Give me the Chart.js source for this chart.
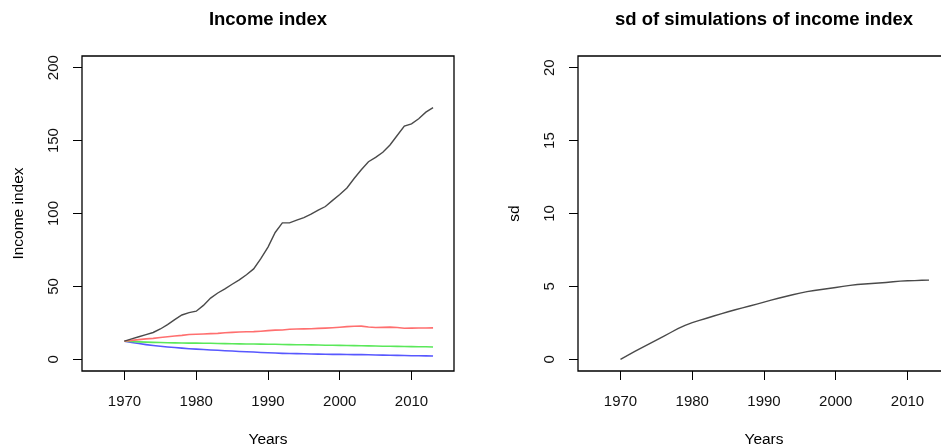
<!DOCTYPE html>
<html>
<head>
<meta charset="utf-8">
<script src="https://cdn.jsdelivr.net/npm/chart.js@4.4.1/dist/chart.umd.min.js"></script>
<style>
  html, body { margin: 0; padding: 0; background: #fff; overflow: hidden; }
  #leftChart { position: absolute; left: 0; top: 0; }
  #rightChart { position: absolute; left: 470px; top: 0; }
</style>
</head>
<body>
<canvas id="leftChart" width="470" height="448"></canvas>
<canvas id="rightChart" width="530" height="448"></canvas>
<script>
// --- data ---
const years = [1970, 1971, 1972, 1973, 1974, 1975, 1976, 1977, 1978, 1979,
               1980, 1981, 1982, 1983, 1984, 1985, 1986, 1987, 1988, 1989,
               1990, 1991, 1992, 1993, 1994, 1995, 1996, 1997, 1998, 1999,
               2000, 2001, 2002, 2003, 2004, 2005, 2006, 2007, 2008, 2009,
               2010, 2011, 2012, 2013];

// observed income index (black)
const incomeObserved = [12.5, 14, 15.5, 16.9, 18.4, 20.8, 23.8, 27.2, 30.4, 32,
                        33, 37, 42, 45.5, 48.3, 51.5, 54.5, 58, 62, 69,
                        77, 87, 93.6, 93.6, 95.4, 97.2, 99.5, 102.3, 104.8, 109,
                        113, 117.5, 124, 130, 135.5, 138.5, 142, 147, 153.5, 160,
                        161.5, 165, 169.5, 172.6];
// simulated scenarios (red / green / blue)
const incomeHigh = [12.5, 13, 13.5, 14, 14.4, 15, 15.5, 16, 16.4, 17,
                    17.2, 17.4, 17.6, 17.8, 18.2, 18.5, 18.7, 18.9, 19, 19.3,
                    19.7, 20, 20.1, 20.6, 20.8, 20.9, 21, 21.2, 21.4, 21.7,
                    22, 22.4, 22.7, 22.8, 22.2, 21.8, 21.9, 22.1, 21.8, 21.3,
                    21.4, 21.5, 21.5, 21.6];
const incomeMid = [12.5, 12.2, 12, 11.8, 11.6, 11.5, 11.4, 11.3, 11.2, 11.1,
                   11.1, 11, 11, 10.9, 10.8, 10.7, 10.6, 10.5, 10.5, 10.4,
                   10.3, 10.3, 10.2, 10.1, 10, 10, 9.9, 9.8, 9.7, 9.7,
                   9.6, 9.5, 9.4, 9.3, 9.2, 9.1, 9, 9, 8.9, 8.8,
                   8.7, 8.6, 8.6, 8.5];
const incomeLow = [12.5, 11.6, 10.8, 10.1, 9.5, 9, 8.5, 8.1, 7.7, 7.3,
                   7, 6.7, 6.4, 6.2, 5.9, 5.7, 5.4, 5.2, 5, 4.7,
                   4.5, 4.3, 4.1, 4, 3.9, 3.8, 3.7, 3.6, 3.5, 3.4,
                   3.4, 3.3, 3.2, 3.2, 3.1, 3, 2.9, 2.8, 2.7, 2.6,
                   2.5, 2.5, 2.4, 2.3];
// sd of simulations
const sdValues = [0, 0.27, 0.54, 0.8, 1.06, 1.32, 1.58, 1.84, 2.1, 2.33,
                  2.52, 2.67, 2.82, 2.97, 3.12, 3.26, 3.4, 3.53, 3.66, 3.79,
                  3.92, 4.06, 4.19, 4.31, 4.43, 4.54, 4.64, 4.72, 4.79, 4.86,
                  4.93, 5, 5.07, 5.13, 5.17, 5.2, 5.23, 5.27, 5.32, 5.36,
                  5.39, 5.4, 5.42, 5.43];

const yearTicks = [1970, 1980, 1990, 2000, 2010];
const incomeTicks = [0, 50, 100, 150, 200];
const sdTicks = [0, 5, 10, 15, 20];

const FONT = '"Liberation Sans", Arial, Helvetica, sans-serif';

function toPoints(vals) {
    return years.map((yr, i) => ({ x: yr, y: vals[i] }));
}

// box around the plot region + titles, drawn the way R base graphics does
const frameAndText = {
    id: 'frameAndText',
    afterDraw(chart, args, opts) {
        const { ctx, chartArea: a } = chart;
        ctx.save();
        ctx.strokeStyle = '#000';
        ctx.lineWidth = 1.3;
        ctx.beginPath();
        ctx.moveTo(a.right, a.top);
        ctx.lineTo(a.left, a.top);
        ctx.lineTo(a.left, a.bottom);
        ctx.lineTo(a.right, a.bottom);
        if (opts.closeRight) ctx.closePath();
        ctx.stroke();

        const cx = (a.left + a.right) / 2;
        ctx.fillStyle = '#000';
        ctx.textAlign = 'center';
        ctx.textBaseline = 'alphabetic';
        ctx.font = 'bold 18.5px ' + FONT;
        ctx.fillText(opts.title, cx, 25);
        ctx.font = '15.5px ' + FONT;
        ctx.fillText(opts.xTitle, cx, 444);
        ctx.translate(opts.yTitleX, (a.top + a.bottom) / 2);
        ctx.rotate(-Math.PI / 2);
        ctx.fillText(opts.yTitle, 0, 0);
        ctx.restore();
    }
};

function makeScales(yMin, yMax, yTickVals, yAxisWidth, yPad) {
    return {
        x: {
            type: 'linear',
            min: 1964.08,
            max: 2015.92,
            afterBuildTicks: s => { s.ticks = yearTicks.map(v => ({ value: v })); },
            afterFit: s => { s.height = 77; },
            grid: { drawOnChartArea: false, drawTicks: true, tickLength: 9, color: '#000', lineWidth: 1 },
            border: { display: false },
            ticks: { color: '#111', font: { family: FONT, size: 15 }, padding: 13, maxRotation: 0,
                     callback: v => String(v) }
        },
        y: {
            type: 'linear',
            min: yMin,
            max: yMax,
            afterBuildTicks: s => { s.ticks = yTickVals.map(v => ({ value: v })); },
            afterFit: s => { s.width = yAxisWidth; },
            grid: { drawOnChartArea: false, drawTicks: true, tickLength: 9, color: '#000', lineWidth: 1 },
            border: { display: false },
            ticks: { color: '#111', font: { family: FONT, size: 15 }, padding: yPad,
                     minRotation: 90, maxRotation: 90, crossAlign: 'center',
                     callback: v => String(v) }
        }
    };
}

const common = {
    responsive: false,
    animation: false,
    events: [],
    elements: { point: { radius: 0 }, line: { tension: 0 } }
};

new Chart(document.getElementById('leftChart'), {
    type: 'line',
    data: {
        datasets: [
            { data: toPoints(incomeObserved), borderColor: '#4a4a4a', borderWidth: 1.4 },
            { data: toPoints(incomeHigh), borderColor: '#ff6f6f', borderWidth: 1.6 },
            { data: toPoints(incomeMid), borderColor: '#5ae85a', borderWidth: 1.6 },
            { data: toPoints(incomeLow), borderColor: '#5858ff', borderWidth: 1.6 }
        ]
    },
    options: {
        ...common,
        layout: { padding: { top: 56, right: 16, left: 0, bottom: 0 } },
        scales: makeScales(-8, 208, incomeTicks, 82, 6.5),
        plugins: {
            legend: { display: false },
            tooltip: { enabled: false },
            frameAndText: { title: 'Income index', xTitle: 'Years', yTitle: 'Income index',
                            yTitleX: 22.5, closeRight: true }
        }
    },
    plugins: [frameAndText]
});

// right panel runs past the window edge, as in the reference
new Chart(document.getElementById('rightChart'), {
    type: 'line',
    data: {
        datasets: [
            { data: toPoints(sdValues), borderColor: '#4a4a4a', borderWidth: 1.4 }
        ]
    },
    options: {
        ...common,
        layout: { padding: { top: 56, right: 50, left: 0, bottom: 0 } },
        scales: makeScales(-0.8, 20.8, sdTicks, 108, 10.7),
        plugins: {
            legend: { display: false },
            tooltip: { enabled: false },
            frameAndText: { title: 'sd of simulations of income index', xTitle: 'Years', yTitle: 'sd',
                            yTitleX: 49, closeRight: false }
        }
    },
    plugins: [frameAndText]
});
</script>
</body>
</html>
